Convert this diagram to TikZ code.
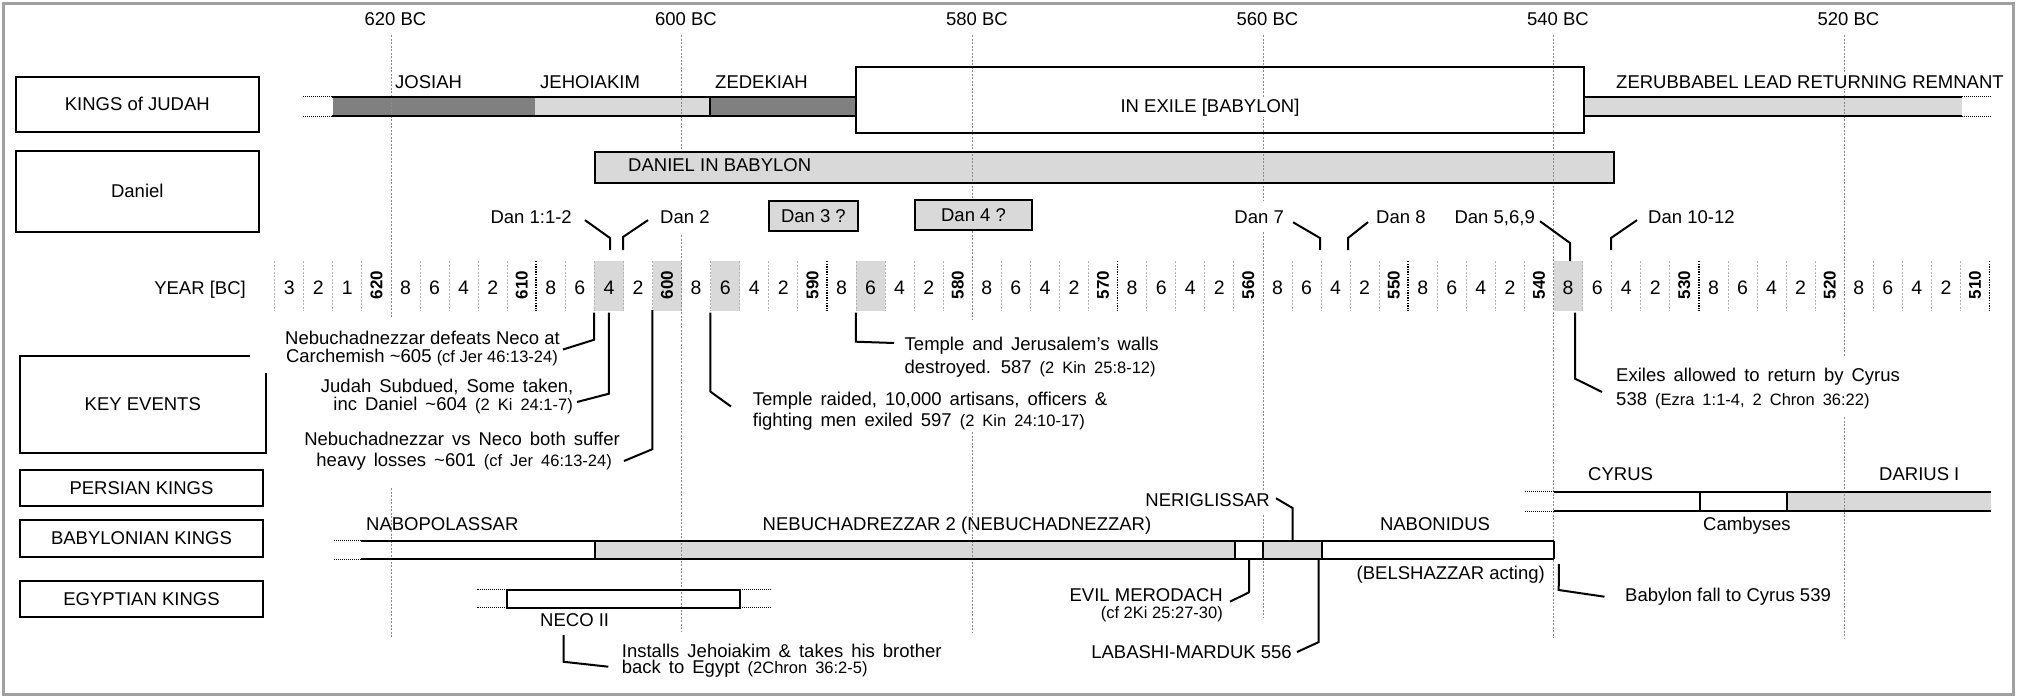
\documentclass[tikz,border=0pt]{standalone}
\usepackage{fontspec}
\usepackage{graphicx}
\setmainfont{Liberation Sans}
\definecolor{dg}{HTML}{808080}
\definecolor{lg}{HTML}{D9D9D9}
\definecolor{frc}{HTML}{A0A0A0}
\definecolor{glc}{HTML}{8C8C8C}
\definecolor{sepc}{HTML}{B4B4B4}
\newcommand\bigf{\fontsize{18.5}{19}\selectfont}
\newcommand\evf{\fontsize{18.5}{19}\selectfont\spaceskip=8pt plus 2pt minus 1pt\relax}
\newcommand\smf{\fontsize{16.5}{17}\selectfont}
\newcommand\digf{\fontsize{19.5}{20}\selectfont}
\newcommand\decf{\fontsize{17}{17}\selectfont\bfseries}
\tikzset{
  lbl/.style={font=\bigf, inner sep=0pt},
  evt/.style={font=\evf, inner sep=0pt},
  hdr/.style={draw=black, line width=2pt, fill=white, font=\bigf, inner sep=0pt},
  seg/.style={draw=none, inner sep=0pt},
  barline/.style={line width=2pt},
  stub/.style={line width=1pt, dash pattern=on 1pt off 1pt},
  gridl/.style={glc, line width=0.9pt, dash pattern=on 2pt off 1.5pt},
  sepl/.style={sepc, line width=0.8pt, dash pattern=on 2pt off 1.5pt},
  dsepl/.style={black, line width=1.6pt, dash pattern=on 1.3pt off 1.3pt},
  conn/.style={line width=2pt},
  dbox/.style={draw=black, line width=2pt, fill=lg, font=\bigf, inner sep=0pt},
  cell/.style={inner sep=0pt, minimum width=29.065pt, minimum height=50pt, font=\digf},
}
\begin{document}
\begin{tikzpicture}[x=1pt,y=-1pt]
\useasboundingbox (0,0) rectangle (2018,697);
\draw[frc, line width=3pt] (3,3) rectangle (2013,694);

% row headers
\node[hdr, minimum width=243.4pt, minimum height=55pt] (hkj) at (137.3,104.2) {KINGS of JUDAH};
\node[hdr, minimum width=243.4pt, minimum height=81pt] (hdan) at (137.3,191.2) {Daniel};
\node[font=\bigf, inner sep=0pt] (hkev) at (142.8,404.5) {KEY EVENTS};
\draw[line width=2pt] (250,356) -- (20,356) -- (20,453) -- (265.6,453) -- (265.6,373);
\node[hdr, minimum width=243pt, minimum height=36pt] (hper) at (141.5,488) {PERSIAN KINGS};
\node[hdr, minimum width=243pt, minimum height=37pt] (hbab) at (141.5,538.5) {BABYLONIAN KINGS};
\node[hdr, minimum width=243pt, minimum height=36pt] (hegy) at (141.5,599) {EGYPTIAN KINGS};

% bar fills
\node[seg, fill=dg, minimum width=202.2pt, minimum height=19pt] (josiah) at (433.7,106.5) {};
\node[seg, fill=lg, minimum width=175.5pt, minimum height=19pt] (jehoi) at (622.55,106.5) {};
\node[seg, fill=dg, minimum width=145.7pt, minimum height=19pt] (zedek) at (783.15,106.5) {};
\node[seg, fill=white, minimum width=728pt, minimum height=66pt] (exile) at (1220,100) {};
\node[seg, fill=lg, minimum width=377.6pt, minimum height=19pt] (zerub) at (1772.8,106.5) {};
\node[seg, fill=lg, minimum width=1018.6pt, minimum height=31pt] (dib) at (1104.3,167.2) {};
\node[seg, fill=white, minimum width=234.3pt, minimum height=18pt] (nabo) at (477.85,550) {};
\node[seg, fill=lg, minimum width=640pt, minimum height=18pt] (nebu) at (915,550) {};
\node[seg, fill=white, minimum width=28.3pt, minimum height=18pt] (evil) at (1249.15,550) {};
\node[seg, fill=lg, minimum width=58.4pt, minimum height=18pt] (nerig) at (1292.5,550) {};
\node[seg, fill=white, minimum width=232.3pt, minimum height=18pt] (nabon) at (1437.85,550) {};
\node[seg, fill=white, minimum width=145.7pt, minimum height=19pt] (cyrus) at (1626.85,501.5) {};
\node[seg, fill=white, minimum width=87pt, minimum height=19pt] (camb) at (1743.2,501.5) {};
\node[seg, fill=lg, minimum width=204.3pt, minimum height=19pt] (darius) at (1888.85,501.5) {};
\node[seg, fill=white, minimum width=232.7pt, minimum height=17.7pt] (neco) at (623.65,598.85) {};

% shaded year cells
\foreach \Y in {604,600,596,586,538}{
  \fill[lg] ({391+(618-\Y)*14.5325},261) rectangle ({391+(620-\Y)*14.5325},311);
}

% grid lines
\draw[gridl] (391,35) -- (391,318);
\draw[gridl] (391,488) -- (391,638);
\draw[gridl] (681.65,35) -- (681.65,152);
\draw[gridl] (681.65,235) -- (681.65,632);
\draw[gridl] (972.3,35) -- (972.3,320);
\draw[gridl] (972.3,432) -- (972.3,633);
\draw[gridl] (1262.95,35) -- (1262.95,200);
\draw[gridl] (1262.95,232) -- (1262.95,490);
\draw[gridl] (1262.95,515) -- (1262.95,618);
\draw[gridl] (1553.6,35) -- (1553.6,638);
\draw[gridl] (1844.25,35) -- (1844.25,357);
\draw[gridl] (1844.25,417) -- (1844.25,638);

% year separators
\foreach \i in {0,...,59}{
  \pgfmathtruncatemacro\Yb{628-2*\i}
  \pgfmathsetmacro\xb{274.7+\i*29.065}
  \pgfmathtruncatemacro\mt{mod(\Yb,10)}
  \pgfmathtruncatemacro\mw{mod(\Yb,20)}
  \ifnum\mt=0
    \ifnum\mw=0 \else
      \draw[dsepl] (\xb,261) -- (\xb,311);
    \fi
  \else
    \draw[sepl] (\xb,261) -- (\xb,311);
  \fi
}

% bar outlines
\draw[barline] (josiah.north west) -- (zedek.north east);
\draw[barline] (josiah.south west) -- (zedek.south east);
\draw[barline] (zedek.north west) -- (zedek.south west);
\draw[barline] (exile.north west) rectangle (exile.south east);
\draw[barline] (zerub.north west) -- (zerub.north east);
\draw[barline] (zerub.south west) -- (zerub.south east);
\draw[barline] (dib.north west) rectangle (dib.south east);
\draw[barline] (nabo.north west) -- (nabon.north east);
\draw[barline] (nabo.south west) -- (nabon.south east);
\draw[barline] (nebu.north west) -- (nebu.south west);
\draw[barline] (nebu.north east) -- (nebu.south east);
\draw[barline] (nerig.north west) -- (nerig.south west);
\draw[barline] (nerig.north east) -- (nerig.south east);
\draw[barline] (nabon.north east) -- (nabon.south east);
\draw[barline] (cyrus.north west) -- (darius.north east);
\draw[barline] (cyrus.south west) -- (darius.south east);
\draw[barline] (camb.north west) -- (camb.south west);
\draw[barline] (camb.north east) -- (camb.south east);
\draw[barline] (neco.north west) rectangle (neco.south east);

% dotted continuation stubs
\draw[stub] (josiah.north west) -- ++(-29,0);
\draw[stub] (josiah.south west) -- ++(-29,0);
\draw[stub] (zerub.north east) -- ++(29.4,0);
\draw[stub] (zerub.south east) -- ++(29.4,0);
\draw[stub] (nabo.north west) -- ++(-28,0);
\draw[stub] (nabo.south west) -- ++(-28,0);
\draw[stub] (cyrus.north west) -- ++(-30,0);
\draw[stub] (cyrus.south west) -- ++(-30,0);
\draw[stub] (neco.north west) -- ++(-30.6,0);
\draw[stub] (neco.south west) -- ++(-30.6,0);
\draw[stub] (neco.north east) -- ++(30.7,0);
\draw[stub] (neco.south east) -- ++(30.7,0);

% year cells
\node[lbl, anchor=base east] (lyear) at (246,294) {YEAR [BC]};
\foreach \i in {0,...,58}{
  \pgfmathtruncatemacro\Y{626-2*\i}
  \pgfmathsetmacro\cx{274.7+(\i+0.5)*29.065}
  \pgfmathtruncatemacro\k{mod(\Y,10)}
  \ifnum\i<3
    \pgfmathtruncatemacro\lab{3-\i}
    \node[cell] (c\Y) at (\cx,287.5) {\lab};
  \else
    \ifnum\k=0
      \node[cell] (c\Y) at (\cx,285) {\rotatebox{90}{\decf\Y}};
    \else
      \node[cell] (c\Y) at (\cx,287.5) {\k};
    \fi
  \fi
}

% decade labels
\foreach \yr/\xx in {620/395.5,600/686,580/977,560/1267.5,540/1558,520/1848.5}
  \node[lbl, anchor=base] (t\yr) at (\xx,25.5) {\yr\ BC};

% Kings of Judah labels
\node[lbl, anchor=base west] (ljos) at (395,88) {JOSIAH};
\node[lbl, anchor=base west] (ljeh) at (540,88) {JEHOIAKIM};
\node[lbl, anchor=base west] (lzed) at (715,88) {ZEDEKIAH};
\node[lbl, anchor=base, fill=white, inner sep=1pt] (lexile) at (1210,112) {IN EXILE [BABYLON]};
\node[lbl, anchor=base west, fill=white, inner sep=1pt] (lzer) at (1615,88) {ZERUBBABEL LEAD RETURNING REMNANT};

% Daniel
\node[lbl, anchor=base west] (ldib) at (628,171.7) {DANIEL IN BABYLON};
\node[lbl, anchor=base east] (dan1) at (572,223.5) {Dan 1:1-2};
\node[lbl, anchor=base west, fill=white] (dan2) at (660,223.5) {Dan 2};
\node[dbox, minimum width=88.7pt, minimum height=29.7pt] (dan3) at (813.4,215.9) {Dan 3 ?};
\node[dbox, minimum width=117pt, minimum height=30pt] (dan4) at (973.5,215) {Dan 4 ?};
\node[lbl, anchor=base east, fill=white] (dan7) at (1284,223.5) {Dan 7};
\node[lbl, anchor=base west] (dan8) at (1376,223.5) {Dan 8};
\node[lbl, anchor=base east] (dan569) at (1535,223.5) {Dan 5,6,9};
\node[lbl, anchor=base west] (dan1012) at (1648,223.5) {Dan 10-12};

\draw[conn] ([xshift=13pt,yshift=-3pt]dan1.east) -- (610,238) -- (610,250);
\draw[conn] ([xshift=-12pt,yshift=-3pt]dan2.west) -- (623,237) -- (623,250);
\draw[conn] ([xshift=9pt,yshift=-5pt]dan7.east) -- (1320,238) -- (1320,250);
\draw[conn] ([xshift=-8pt,yshift=-5pt]dan8.west) -- (1348,238) -- (1348,250);
\draw[conn] ([xshift=5pt,yshift=-3pt]dan569.east) -- (1570,243) -- (1570,261);
\draw[conn] ([xshift=-11pt,yshift=-3pt]dan1012.west) -- (1611,238) -- (1611,250);

% key events
\node[lbl, anchor=base east] (e1a) at (560,344) {Nebuchadnezzar defeats Neco at};
\node[lbl, anchor=base east] (e1b) at (558,362.5) {Carchemish \textasciitilde605 {\smf (cf Jer 46:13-24)}};
\node[evt, anchor=base east] (e2a) at (573.5,392.7) {Judah Subdued, Some taken,};
\node[evt, anchor=base east] (e2b) at (573,410.5) {inc Daniel \textasciitilde604 {\smf (2 Ki 24:1-7)}};
\node[evt, anchor=base east] (e3a) at (620,445) {Nebuchadnezzar vs Neco both suffer};
\node[evt, anchor=base east] (e3b) at (612,466) {heavy losses \textasciitilde601 {\smf (cf Jer 46:13-24)}};
\node[evt, anchor=base west] (e4a) at (752.7,405) {Temple raided, 10,000 artisans, officers \&};
\node[evt, anchor=base west] (e4b) at (752.7,426.7) {fighting men exiled 597 {\smf (2 Kin 24:10-17)}};
\node[evt, anchor=base west] (e5a) at (904.5,350.7) {Temple and Jerusalem's walls};
\node[evt, anchor=base west] (e5b) at (904.5,373.3) {destroyed. 587 {\smf (2 Kin 25:8-12)}};
\node[evt, anchor=base west] (e6a) at (1616,381.7) {Exiles allowed to return by Cyrus};
\node[evt, anchor=base west] (e6b) at (1616,405) {538 {\smf (Ezra 1:1-4, 2 Chron 36:22)}};

\draw[conn] (c604.south west) -- ++(0,27) -- (563,349.5);
\draw[conn] (c604.south) -- ++(0,81) -- (577,402);
\draw[conn] (c600.south west) -- ++(0,139) -- (624,461);
\draw[conn] (c596.south west) -- ++(0,79) -- (731,406.5);
\draw[conn] (c586.south west) -- ++(0,29) -- (894,343);
\draw[conn] ([xshift=7pt]c538.south) -- ++(0,66) -- (1602,392);

% Persian labels
\node[lbl, anchor=base west] (lcyr) at (1588,480.7) {CYRUS};
\node[lbl, anchor=base west] (ldar) at (1879,480.7) {DARIUS I};
\node[lbl, anchor=base west] (lcam) at (1703,530) {Cambyses};

% Babylonian labels
\node[lbl, anchor=base west] (lnabo) at (366,530) {NABOPOLASSAR};
\node[lbl, anchor=base] (lnebu) at (957,530) {NEBUCHADREZZAR 2 (NEBUCHADNEZZAR)};
\node[lbl, anchor=base east, fill=white, inner sep=1pt] (lnerig) at (1271,506) {NERIGLISSAR};
\node[lbl, anchor=base] (lnabon) at (1435,530) {NABONIDUS};
\node[lbl, anchor=base east] (lbel) at (1545,579) {(BELSHAZZAR acting)};
\node[lbl, anchor=base east] (levil) at (1223,601.7) {EVIL MERODACH};
\node[font=\smf, inner sep=0pt, anchor=base east] (levil2) at (1223,618) {(cf 2Ki 25:27-30)};
\node[lbl, anchor=base east] (llab) at (1292,658.3) {LABASHI-MARDUK 556};
\node[lbl, anchor=base west, fill=white, inner sep=1pt] (lbab) at (1624,601) {Babylon fall to Cyrus 539};

\draw[conn] ([xshift=5pt,yshift=1.4pt]lnerig.east) -- (1292.5,508) -- (nerig.north);
\draw[conn] (evil.south) -- ++(0,33) -- (1230,601.7);
\draw[conn] ([xshift=-3.4pt]nerig.south east) -- ++(0,83) -- (1297,652);
\draw[conn] ([xshift=4.7pt,yshift=-5pt]nabon.south east) -- (1558.7,590) -- (1604.5,596.7);

% Egyptian
\node[lbl, anchor=base west] (lneco) at (540,626.7) {NECO II};
\node[evt, anchor=base west] (e7a) at (621.7,657.7) {Installs Jehoiakim \& takes his brother};
\node[evt, anchor=base west] (e7b) at (621.7,673.3) {back to Egypt {\smf (2Chron 36:2-5)}};
\draw[conn] ([xshift=-11pt,yshift=-8pt]lneco.south) -- ++(0,26.7) -- (608.3,666.7);
\end{tikzpicture}
\end{document}
